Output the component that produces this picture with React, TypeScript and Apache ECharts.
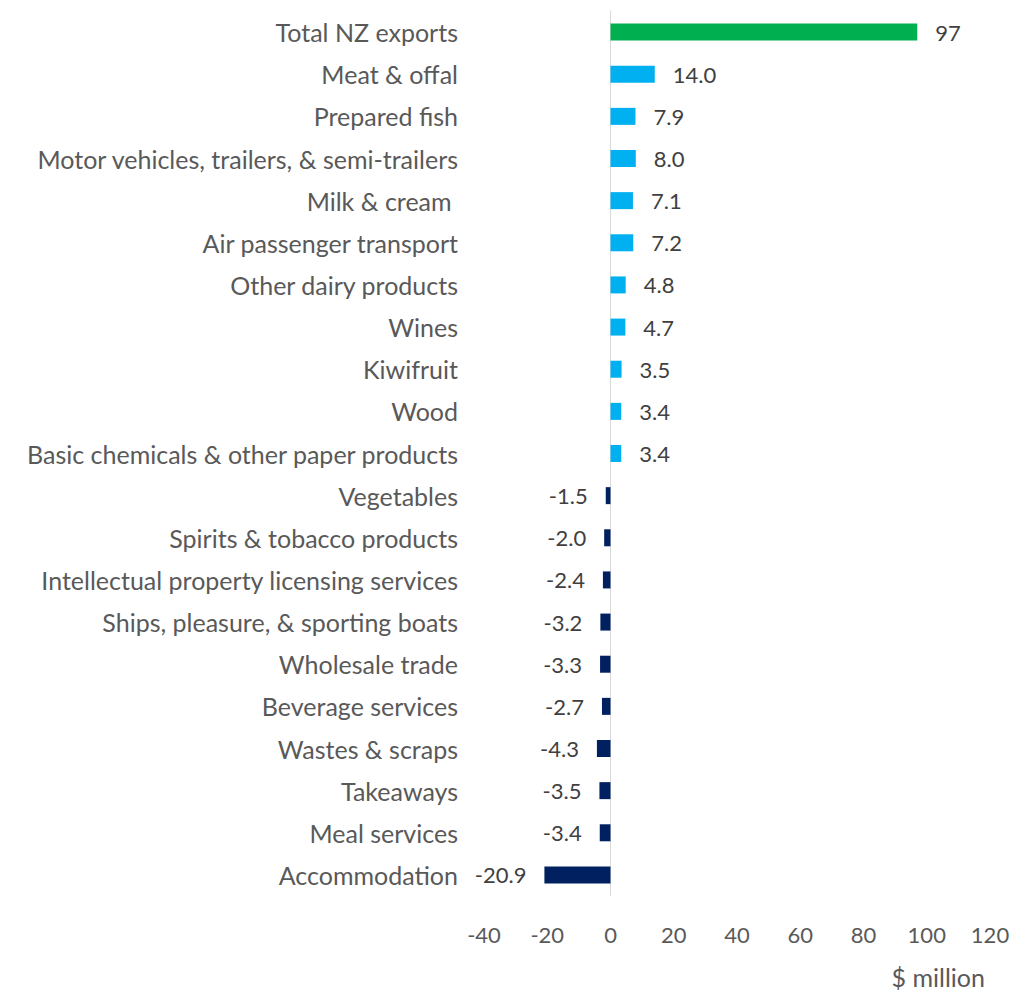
import React, { useEffect, useRef } from "react";
import * as echarts from "echarts";

const categories = [
  "Total NZ exports",
  "Meat & offal",
  "Prepared fish",
  "Motor vehicles, trailers, & semi-trailers",
  "Milk & cream ",
  "Air passenger transport",
  "Other dairy products",
  "Wines",
  "Kiwifruit",
  "Wood",
  "Basic chemicals & other paper products",
  "Vegetables",
  "Spirits & tobacco products",
  "Intellectual property licensing services",
  "Ships, pleasure, & sporting boats",
  "Wholesale trade",
  "Beverage services",
  "Wastes & scraps",
  "Takeaways",
  "Meal services",
  "Accommodation",
];

const values = [
  97, 14.0, 7.9, 8.0, 7.1, 7.2, 4.8, 4.7, 3.5, 3.4, 3.4,
  -1.5, -2.0, -2.4, -3.2, -3.3, -2.7, -4.3, -3.5, -3.4, -20.9,
];

const xTicks = { min: -40, max: 120, interval: 20 };
const axisTitle = "$ million";

const TOTAL_COLOR = "#00B050";
const POS_COLOR = "#00B0F0";
const NEG_COLOR = "#002060";
const TEXT = "#595959";
const VALUE_TEXT = "#404040";
const FONT = "Lato, 'Open Sans', sans-serif";

export default function App() {
  const ref = useRef<HTMLDivElement>(null);

  useEffect(() => {
    if (!ref.current) return;
    const chart = echarts.init(ref.current, undefined, { renderer: "svg" });

    const data = values.map((v, i) => ({
      value: v,
      itemStyle: { color: i === 0 ? TOTAL_COLOR : v >= 0 ? POS_COLOR : NEG_COLOR },
      label: { position: v >= 0 ? "right" : "left" },
    }));

    chart.setOption({
      animation: false,
      grid: {
        left: 484,
        right: 29,
        top: 11,
        bottom: 96,
        containLabel: false,
        outerBoundsMode: "none",
      },
      xAxis: {
        type: "value",
        min: xTicks.min,
        max: xTicks.max,
        interval: xTicks.interval,
        axisLine: { show: false },
        axisTick: { show: false },
        splitLine: { show: false },
        axisLabel: { color: TEXT, fontSize: 22, fontFamily: FONT, margin: 27 },
      },
      yAxis: {
        type: "category",
        data: categories,
        inverse: true,
        axisLine: { show: true, onZero: true, lineStyle: { color: "#D9D9D9", width: 1 } },
        axisTick: { show: false },
        axisLabel: { color: TEXT, fontSize: 25, fontFamily: FONT, margin: 26 },
      },
      series: [
        {
          type: "bar",
          data,
          barWidth: 17,
          label: {
            show: true,
            color: VALUE_TEXT,
            fontSize: 22,
            fontFamily: FONT,
            distance: 18,
            formatter: (p: any) =>
              p.dataIndex === 0 ? String(Math.round(p.value)) : Number(p.value).toFixed(1),
          },
        },
      ],
      graphic: [
        {
          type: "text",
          x: 985,
          y: 977,
          style: {
            text: axisTitle,
            fill: TEXT,
            fontSize: 25,
            fontFamily: FONT,
            textAlign: "right",
            textVerticalAlign: "middle",
          },
        },
      ],
    });

    return () => chart.dispose();
  }, []);

  return (
    <div
      ref={ref}
      style={{ position: "absolute", left: 0, top: 0, width: 1019, height: 992, background: "#fff" }}
    />
  );
}
